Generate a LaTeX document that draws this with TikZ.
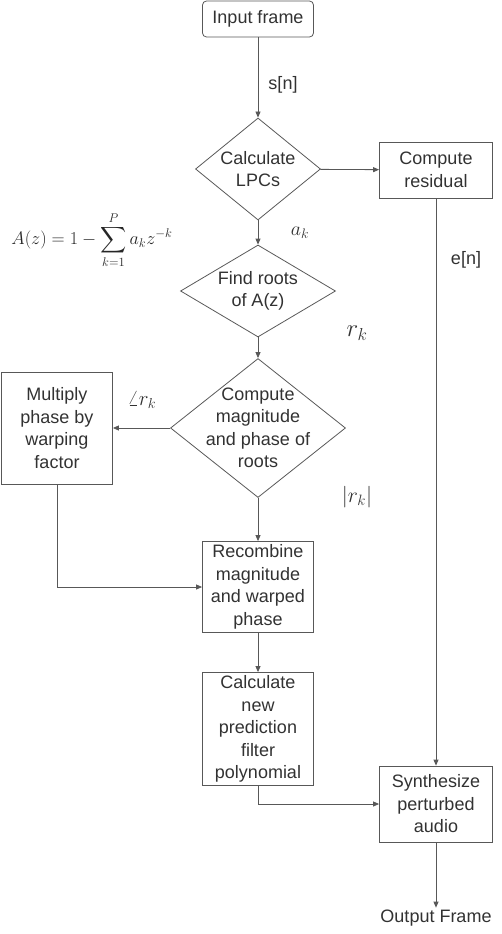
\documentclass[tikz,border=0pt]{standalone}
\usepackage{graphicx}
\usepackage{amsmath}
\usepackage{fontspec}
\setmainfont{Liberation Sans}
\usetikzlibrary{arrows.meta,shapes.geometric}
\definecolor{linegray}{RGB}{88,88,88}
\definecolor{textgray}{RGB}{50,50,50}

\tikzset{
  proc/.style={draw=linegray, thick, align=center, inner sep=0pt, minimum width=111pt},
  decision/.style={diamond, draw=linegray, thick, inner sep=0pt},
  flow/.style={draw=linegray, thick, -{Triangle[length=6pt,width=5pt]}},
}

\begin{document}
\begin{tikzpicture}[x=1pt, y=-1pt, text=textgray,
                    font=\fontsize{18}{22.5}\selectfont]
\useasboundingbox (0,0) rectangle (502,934);

% blocks
\node[proc, rounded corners=4pt, minimum height=36pt] (in) at (258,19) {Input frame};
\node[decision, minimum width=125pt, minimum height=102pt,
      label={[align=center]center:Calculate\\LPCs}] (lpc) at (258,169) {};
\node[proc, minimum width=113pt, minimum height=56pt] (res) at (436,170) {Compute\\residual};
\node[decision, minimum width=155pt, minimum height=92pt,
      label={[align=center]center:Find roots\\of A(z)}] (roots) at (258,291) {};
\node[decision, minimum width=175pt, minimum height=139pt,
      label={[align=center]center:Compute\\magnitude\\and phase of\\roots}] (mag) at (258,428) {};
\node[proc, minimum height=112pt] (mult) at (57,428) {Multiply\\phase by\\warping\\factor};
\node[proc, minimum height=91pt] (rec) at (258,587) {Recombine\\magnitude\\and warped\\phase};
\node[proc, minimum height=113pt] (poly) at (258,729) {Calculate\\new\\prediction\\filter\\polynomial};
\node[proc, minimum width=113pt, minimum height=76pt] (syn) at (436,804) {Synthesize\\perturbed\\audio};
\node[inner sep=2pt] (out) at (436,918) {Output Frame};

% side labels
\node (sn) at (283,85) {s[n]};
\node (en) at (466,260) {e[n]};
\node (ak) at (300,233) {\scalebox{1.15}{$a_k$}};
\node[font=\fontsize{24}{28}\selectfont] (rk) at (357,333) {$r_k$};
\node (ang) at (142,400) {\scalebox{1.2}{$\angle r_k$}};
\node (abs) at (357,497) {\scalebox{1.25}{$|r_k|$}};
\node[text=black!85] (eq) at (92,240)
  {\scalebox{1.05}{$\displaystyle A(z) = 1 - \sum_{k=1}^{P} a_k z^{-k}$}};

% connectors
\draw[flow] (in) -- (lpc);
\draw[flow] (lpc) -- (res);
\draw[flow] (lpc) -- (roots);
\draw[flow] (res) -- (syn);
\draw[flow] (roots) -- (mag);
\draw[flow] (mag) -- (mult);
\draw[flow] (mag) -- (rec);
\draw[flow] (mult.south) |- (rec.west);
\draw[flow] (rec) -- (poly);
\draw[flow] (poly.south) |- (syn.west);
\draw[flow] (syn) -- (out);
\end{tikzpicture}
\end{document}
